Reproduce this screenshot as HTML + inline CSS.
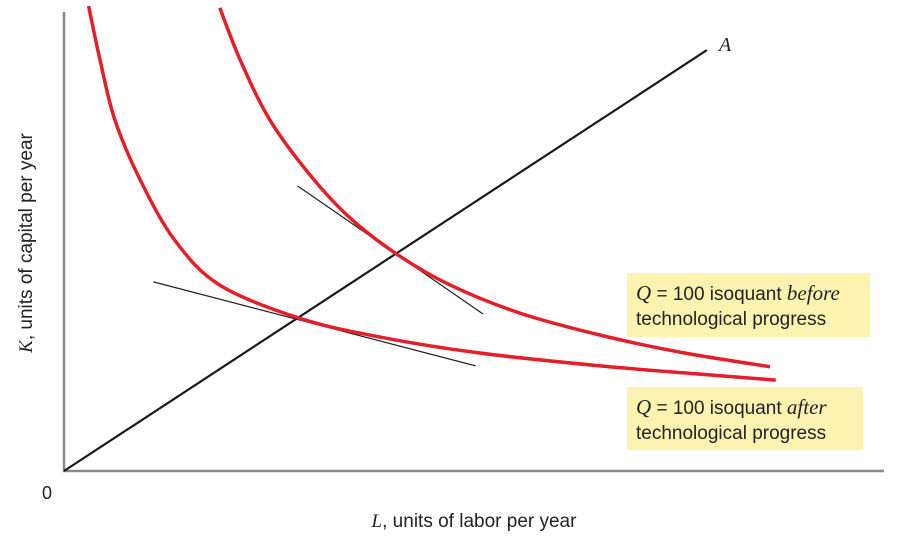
<!DOCTYPE html>
<html><head><meta charset="utf-8"><style>
body{margin:0;background:#fff;}
svg{display:block;font-family:"Liberation Sans",sans-serif;}
</style></head><body>
<svg id="chart" width="899" height="543" viewBox="0 0 899 543" xmlns="http://www.w3.org/2000/svg">
<g id="g"></g>
</svg>
<script>
const beforeL=[19.0,21.5,25.1,30.0,34.9,40.7,47.1,55.6,65.4,75.1,86.1];
const beforeK=[100.9,89.5,76.5,64.5,55.1,47.1,40.5,34.4,29.6,25.9,22.7];
const afterL=[3.0,4.4,6.2,9.3,13.5,19.0,28.7,38.5,50.7,65.4,77.6,86.8];
const afterK=[101.3,89.5,76.5,63.4,50.3,40.5,33.3,29.2,25.7,22.9,21.1,19.8];
const rayL=[0,78.4];
const rayK=[0,91.7];
const tan1L=[28.5,51.1];
const tan1K=[62.1,34.2];
const tan2L=[10.9,50.2];
const tan2K=[41.2,22.9];
const X0=64,Y0=471,SX=8.2,SY=4.59;
function sx(l){return X0+l*SX;}
function sy(k){return Y0-k*SY;}
const NS="http://www.w3.org/2000/svg";
const g=document.getElementById('g');
function mk(tag,attrs){const e=document.createElementNS(NS,tag);for(const k in attrs)e.setAttribute(k,attrs[k]);g.appendChild(e);return e;}
function smooth(L,K){const p=L.map((l,i)=>[sx(l),sy(K[i])]);let d=`M${p[0][0]},${p[0][1]}`;
for(let i=0;i<p.length-1;i++){const p0=p[i-1]||p[i],p1=p[i],p2=p[i+1],p3=p[i+2]||p2;
d+=` C${p1[0]+(p2[0]-p0[0])/6},${p1[1]+(p2[1]-p0[1])/6} ${p2[0]-(p3[0]-p1[0])/6},${p2[1]-(p3[1]-p1[1])/6} ${p2[0]},${p2[1]}`;}return d;}
let e;
e=mk('line',{x1:64,y1:12,x2:64,y2:472,stroke:'#8a8a8a','stroke-width':2.5});


e=mk('line',{x1:63,y1:471,x2:884,y2:471,stroke:'#8a8a8a','stroke-width':2.5});


e=mk('rect',{x:627,y:273,width:243,height:64,fill:'#fdf3b0'});


e=mk('rect',{x:627,y:387,width:236,height:63,fill:'#fdf3b0'});


e=mk('line',{x1:sx(tan1L[0]),y1:sy(tan1K[0]),x2:sx(tan1L[1]),y2:sy(tan1K[1]),stroke:'#222','stroke-width':1.2});


e=mk('line',{x1:sx(tan2L[0]),y1:sy(tan2K[0]),x2:sx(tan2L[1]),y2:sy(tan2K[1]),stroke:'#222','stroke-width':1.2});


e=mk('line',{x1:sx(rayL[0]),y1:sy(rayK[0]),x2:sx(rayL[1]),y2:sy(rayK[1]),stroke:'#1a1a1a','stroke-width':2.2});


e=mk('path',{d:smooth(beforeL,beforeK),fill:'none',stroke:'#e3202a','stroke-width':3.5});


e=mk('path',{d:smooth(afterL,afterK),fill:'none',stroke:'#e3202a','stroke-width':3.5});


</script>
<svg style="position:absolute;left:0;top:0" width="899" height="543" xmlns="http://www.w3.org/2000/svg" font-family="Liberation Sans, sans-serif">
<text x="719" y="51" font-family="Liberation Serif, serif" font-style="italic" font-size="20" fill="#222">A</text>
<text x="42" y="499" font-size="18" fill="#222">0</text>
<text x="474" y="527" text-anchor="middle" font-size="19" fill="#222"><tspan font-family="Liberation Serif, serif" font-style="italic">L</tspan>, units of labor per year</text>
<text transform="translate(32,243) rotate(-90)" text-anchor="middle" font-size="19" fill="#222"><tspan font-family="Liberation Serif, serif" font-style="italic">K</tspan>, units of capital per year</text>
<text font-size="19" fill="#222"><tspan x="636" y="300"><tspan font-family="Liberation Serif, serif" font-style="italic" font-size="21">Q</tspan> = 100 isoquant <tspan font-family="Liberation Serif, serif" font-style="italic" font-size="21">before</tspan></tspan><tspan x="636" y="325">technological progress</tspan></text>
<text font-size="19" fill="#222"><tspan x="636" y="414"><tspan font-family="Liberation Serif, serif" font-style="italic" font-size="21">Q</tspan> = 100 isoquant <tspan font-family="Liberation Serif, serif" font-style="italic" font-size="21">after</tspan></tspan><tspan x="636" y="439">technological progress</tspan></text>
</svg>
</body></html>
